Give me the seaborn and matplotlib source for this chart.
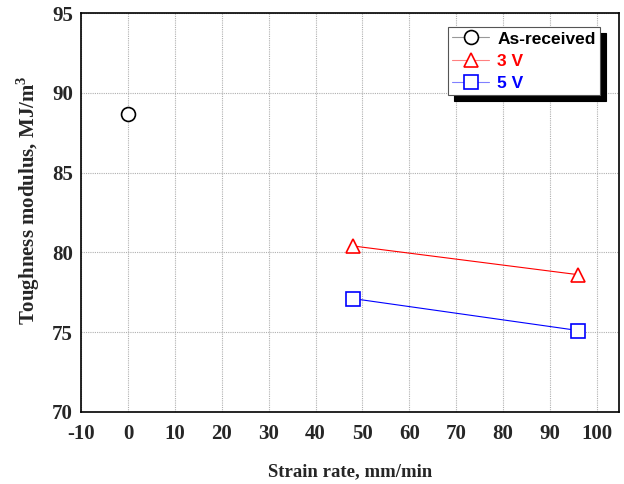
import matplotlib
matplotlib.use("Agg")
import matplotlib.pyplot as plt
import seaborn as sns
import pandas as pd
from matplotlib.ticker import MultipleLocator

sns.set_style("white")
plt.rcParams['font.family'] = ['Liberation Serif', 'DejaVu Serif']
plt.rcParams['axes.unicode_minus'] = False
plt.rcParams['mathtext.fontset'] = 'custom'
plt.rcParams['mathtext.bf'] = 'Liberation Serif:bold'
plt.rcParams['mathtext.rm'] = 'Liberation Serif'

# Data
series_names = ["As-received", "3 V", "5 V"]
asrec_x = [0]
asrec_y = [88.7]
v3_x = [48, 96]
v3_y = [80.4, 78.6]
v5_x = [48, 96]
v5_y = [77.1, 75.1]
colors = ["black", "red", "blue"]
light_colors = ["#999999", "#ff8080", "#8080ff"]
markers = ["o", "^", "s"]
x_ticks = [-10, 0, 10, 20, 30, 40, 50, 60, 70, 80, 90, 100]
y_ticks = [70, 75, 80, 85, 90, 95]

fig = plt.figure(figsize=(6.24, 4.84), dpi=100)
ax = fig.add_axes([0.13, 0.149, 0.862, 0.824])

data = [(asrec_x, asrec_y), (v3_x, v3_y), (v5_x, v5_y)]
for name, (xs, ys), c, m in zip(series_names, data, colors, markers):
    df = pd.DataFrame({"x": xs, "y": ys})
    sns.lineplot(data=df, x="x", y="y", ax=ax, color=c, linewidth=0.8,
                 marker=m, markersize=10, markerfacecolor="white",
                 markeredgecolor=c, markeredgewidth=1.2, label=name,
                 alpha=1, zorder=3)

ax.set_xlim(-10, 104.7)
ax.set_ylim(70, 95)
ax.set_xticks(x_ticks)
ax.set_yticks(y_ticks)
ax.xaxis.set_minor_locator(MultipleLocator(5))
ax.tick_params(axis="both", which="both", direction="in", labelsize=15)
ax.tick_params(axis="both", which="major", length=6, width=1)
ax.tick_params(axis="x", which="minor", length=3, width=1)
ax.tick_params(axis="x", which="major", pad=9)
ax.tick_params(axis="y", which="major", pad=6)
for lab in ax.get_xticklabels() + ax.get_yticklabels():
    lab.set_fontweight("bold")
ax.grid(True, which="major", color="#b0b0b0", linestyle=(0, (1, 1)), linewidth=0.8)
for s in ax.spines.values():
    s.set_linewidth(1.2)
    s.set_color("black")

ax.set_xlabel("Strain rate, mm/min", fontsize=13.5, fontweight="bold")
ax.xaxis.set_label_coords(0.5, -0.128)
ax.set_ylabel("Toughness modulus, MJ/m$^\\mathbf{3}$", fontsize=15, fontweight="bold")
ax.yaxis.set_label_coords(-0.072, 0.53)

leg = ax.legend(loc="upper right", bbox_to_anchor=(0.965, 0.965), frameon=True,
                fancybox=False, shadow={"ox": 4, "oy": -4, "color": "black", "alpha": 1},
                prop={"family": "Liberation Sans", "weight": "bold", "size": 12.5},
                handlelength=2.1, handletextpad=0.5, borderpad=0.25, labelspacing=0.4,
                borderaxespad=0)
leg.get_frame().set_edgecolor("#555555")
leg.get_frame().set_linewidth(0.8)
for txt, c in zip(leg.get_texts(), colors):
    txt.set_color(c)
for h, c, lc in zip(leg.legend_handles, colors, light_colors):
    h.set_alpha(None)
    h.set_color(lc)
    h.set_markeredgecolor(c)
    h.set_markerfacecolor("white")

fig.savefig("out.png", dpi=100)
